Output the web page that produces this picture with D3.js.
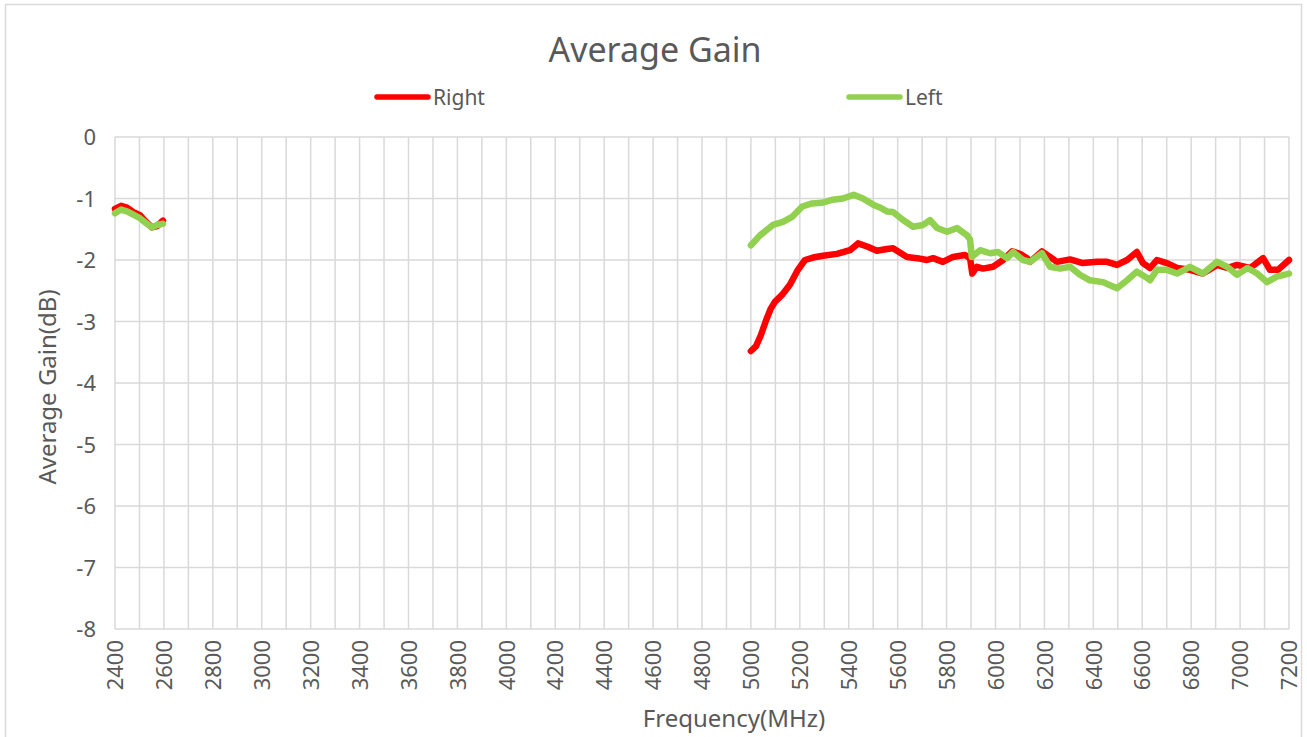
<!DOCTYPE html>
<html>
<head>
<meta charset="utf-8">
<script src="https://cdn.jsdelivr.net/npm/d3@7"></script>
<style>
  body { margin: 0; background: #fff; }
  text { font-family: "Noto Sans", "DejaVu Sans", sans-serif; fill: #595959; }
</style>
</head>
<body>
<svg id="chart" width="1307" height="737"></svg>
<script>
// values
const yTicks = [0, -1, -2, -3, -4, -5, -6, -7, -8];
const xTicks = d3.range(2400, 7201, 200);
const xGrid = d3.range(2400, 7201, 100);

// 2.4 GHz band
const freqLow = [2400, 2425, 2449, 2474, 2502, 2527, 2551, 2572, 2596];
const rightLow = [-1.17, -1.12, -1.15, -1.22, -1.27, -1.38, -1.47, -1.45, -1.36];
const leftLow = [-1.24, -1.18, -1.21, -1.26, -1.32, -1.40, -1.47, -1.43, -1.41];

// 5 GHz band, right
const freqRight = [5000, 5021, 5041, 5062, 5080, 5098, 5131, 5160, 5192, 5221, 5254, 5295, 5352, 5405, 5438, 5475,
  5515, 5556, 5581, 5638, 5679, 5720, 5745, 5785, 5826, 5875, 5896, 5905, 5924, 5949, 5990, 6031, 6068, 6100, 6129,
  6141, 6190, 6223, 6251, 6305, 6357, 6415, 6456, 6497, 6538, 6578, 6603, 6632, 6660, 6701, 6742, 6795, 6848, 6906,
  6947, 6987, 7041, 7094, 7122, 7155, 7200];
const gainRight = [-3.48, -3.40, -3.22, -2.98, -2.80, -2.68, -2.55, -2.40, -2.16, -2.00, -1.96, -1.93, -1.90, -1.84, -1.73, -1.78,
  -1.85, -1.82, -1.81, -1.95, -1.97, -2.00, -1.97, -2.03, -1.95, -1.92, -1.97, -2.22, -2.11, -2.14, -2.11, -2.00, -1.86, -1.90, -1.97,
  -2.03, -1.86, -1.95, -2.03, -1.99, -2.05, -2.03, -2.03, -2.08, -2.00, -1.87, -2.05, -2.13, -2.00, -2.05, -2.13, -2.16, -2.22, -2.08,
  -2.13, -2.08, -2.13, -1.97, -2.16, -2.16, -2.00];

// 5 GHz band, left
const freqLeft = [5000, 5037, 5090, 5131, 5168, 5210, 5250, 5290, 5335, 5376, 5420, 5458, 5500, 5530, 5556, 5581,
  5622, 5663, 5704, 5732, 5761, 5802, 5843, 5884, 5896, 5903, 5937, 5978, 6010, 6047, 6072, 6112, 6141, 6190, 6223,
  6264, 6305, 6345, 6386, 6440, 6468, 6497, 6538, 6578, 6619, 6632, 6660, 6701, 6742, 6795, 6848, 6906, 6947, 6987,
  7030, 7070, 7110, 7150, 7200];
const gainLeft = [-1.76, -1.60, -1.43, -1.38, -1.30, -1.13, -1.08, -1.07, -1.02, -1.00, -0.94, -1.00, -1.10, -1.15, -1.21, -1.22,
  -1.35, -1.46, -1.43, -1.35, -1.48, -1.54, -1.48, -1.60, -1.67, -1.95, -1.84, -1.89, -1.87, -1.97, -1.87, -2.00, -2.03, -1.89, -2.11,
  -2.14, -2.11, -2.24, -2.33, -2.36, -2.41, -2.46, -2.33, -2.19, -2.29, -2.33, -2.16, -2.16, -2.22, -2.11, -2.22, -2.03, -2.11, -2.24,
  -2.13, -2.22, -2.36, -2.27, -2.22];

const svg = d3.select("#chart");
const plotL = 115, plotR = 1289, plotT = 137, plotB = 629;

const x = d3.scaleLinear().domain([2400, 7200]).range([plotL, plotR]);
const y = d3.scaleLinear().domain([-8, 0]).range([plotB, plotT]);

// outer frame
svg.append("rect")
  .attr("x", 5.5).attr("y", 4.5)
  .attr("width", 1296).attr("height", 750)
  .attr("fill", "none").attr("stroke", "#d9d9d9").attr("stroke-width", 1.5);

// grid
svg.append("g").selectAll("line").data(xGrid).join("line")
  .attr("x1", d => x(d)).attr("x2", d => x(d))
  .attr("y1", plotT).attr("y2", plotB)
  .attr("stroke", "#d9d9d9").attr("stroke-width", 1.5);
svg.append("g").selectAll("line").data(yTicks).join("line")
  .attr("x1", plotL).attr("x2", plotR)
  .attr("y1", d => y(d)).attr("y2", d => y(d))
  .attr("stroke", "#d9d9d9").attr("stroke-width", 1.5);

// y axis (plain hyphen minus like the original)
const yAxis = svg.append("g")
  .attr("transform", "translate(" + (plotL - 19) + ",0)")
  .call(d3.axisLeft(y).tickValues(yTicks).tickSize(0).tickPadding(0).tickFormat(d => String(d)));
yAxis.select(".domain").remove();
yAxis.selectAll("text").style("font-size", "22px").attr("dy", "0.35em").attr("fill", "#595959");

// x axis, rotated labels
const xAxis = svg.append("g")
  .attr("transform", "translate(0," + plotB + ")")
  .call(d3.axisBottom(x).tickValues(xTicks).tickSize(0).tickFormat(d => String(d)));
xAxis.select(".domain").remove();
xAxis.selectAll("text")
  .style("font-size", "22px")
  .attr("fill", "#595959")
  .attr("transform", "rotate(-90)")
  .attr("text-anchor", "end")
  .attr("x", -11).attr("y", 0).attr("dy", "0.35em");

// titles
svg.append("text").attr("x", 655).attr("y", 62).attr("text-anchor", "middle")
  .style("font-size", "34px").text("Average Gain");
svg.append("text").attr("x", 734).attr("y", 727).attr("text-anchor", "middle")
  .style("font-size", "24px").text("Frequency(MHz)");
svg.append("text").attr("transform", "translate(56,387) rotate(-90)").attr("text-anchor", "middle")
  .style("font-size", "24px").text("Average Gain(dB)");

// series
const line = d3.line().x(d => x(d[0])).y(d => y(d[1]));
const series = [
  {name: "Right", color: "#ff0000", parts: [[freqLow, rightLow], [freqRight, gainRight]], lx: 375},
  {name: "Left", color: "#92d050", parts: [[freqLow, leftLow], [freqLeft, gainLeft]], lx: 847}
];
series.forEach(s => {
  s.parts.forEach(p => {
    svg.append("path")
      .datum(d3.zip(p[0], p[1]))
      .attr("d", line)
      .attr("fill", "none")
      .attr("stroke", s.color)
      .attr("stroke-width", 6.5)
      .attr("stroke-linejoin", "round")
      .attr("stroke-linecap", "round");
  });
  svg.append("line").attr("x1", s.lx + 2).attr("x2", s.lx + 53).attr("y1", 97).attr("y2", 97)
    .attr("stroke", s.color).attr("stroke-width", 5.5).attr("stroke-linecap", "round");
  svg.append("text").attr("x", s.lx + 58).attr("y", 105).style("font-size", "21px").text(s.name);
});
</script>
</body>
</html>
